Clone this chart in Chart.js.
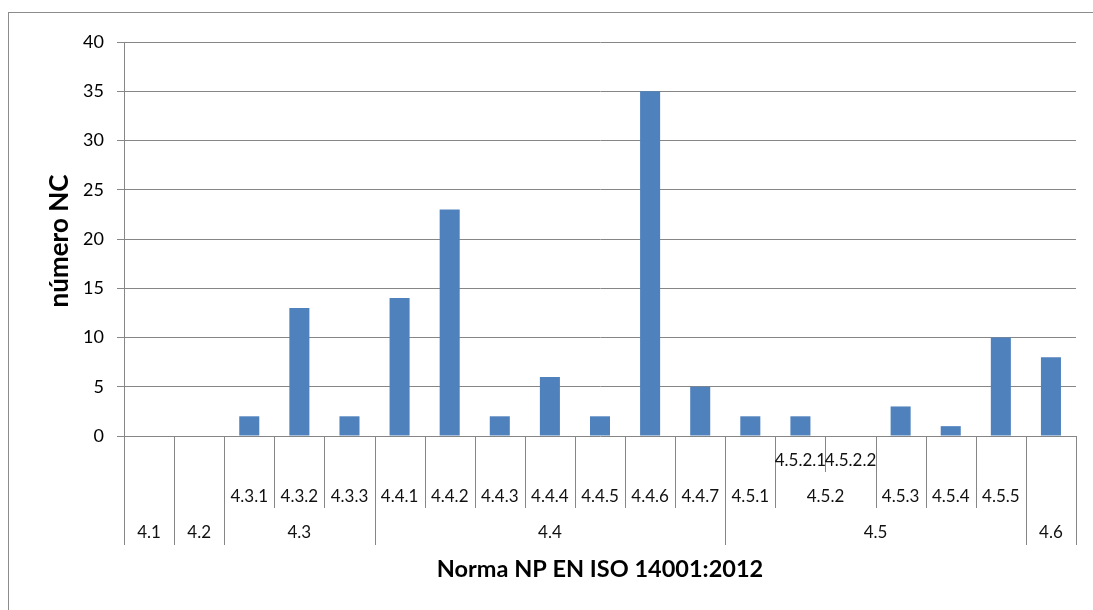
<!DOCTYPE html>
<html>
<head>
<meta charset="utf-8">
<script src="https://cdn.jsdelivr.net/npm/chart.js@4.4.0/dist/chart.umd.min.js"></script>
<style>
  html, body { margin: 0; padding: 0; background: #ffffff; }
  #wrap { width: 1093px; height: 610px; position: relative; }
</style>
</head>
<body>
<div id="wrap"><canvas id="c" width="1093" height="610"></canvas></div>
<script>
// Clause hierarchy of NP EN ISO 14001:2012, one entry per bar (top level, second level, third level)
const clauses    = ['4.1', '4.2', '4.3', '4.3', '4.3', '4.4', '4.4', '4.4', '4.4', '4.4', '4.4', '4.4', '4.5', '4.5', '4.5', '4.5', '4.5', '4.5', '4.6'];
const subClauses = ['', '', '4.3.1', '4.3.2', '4.3.3', '4.4.1', '4.4.2', '4.4.3', '4.4.4', '4.4.5', '4.4.6', '4.4.7', '4.5.1', '4.5.2', '4.5.2', '4.5.3', '4.5.4', '4.5.5', ''];
const items      = ['', '', '', '', '', '', '', '', '', '', '', '', '', '4.5.2.1', '4.5.2.2', '', '', '', ''];

// Number of non-conformities per clause
const ncCounts = [0, 0, 2, 13, 2, 14, 23, 2, 6, 2, 35, 5, 2, 2, 0, 3, 1, 10, 8];

// Value axis ticks
const yTickValues = [0, 5, 10, 15, 20, 25, 30, 35, 40];

const xTitle = 'Norma NP EN ISO 14001:2012';
const yTitle = 'número NC';

const leafLabels = clauses.map((c, i) => items[i] || subClauses[i] || c);

const GRID = '#868686';
const FONT = 'Lato, "Open Sans", sans-serif';

// Draws the outer frame of the chart
const framePlugin = {
  id: 'frame',
  beforeDraw(chart) {
    const ctx = chart.ctx;
    ctx.save();
    ctx.strokeStyle = '#8c8c8c';
    ctx.lineWidth = 1;
    ctx.strokeRect(8.5, 12.5, 3000, 3000);
    ctx.restore();
  }
};

// Three-row category axis with spanning group labels and separators, plus axis titles
const multiLevelAxis = {
  id: 'multiLevelAxis',
  afterDraw(chart) {
    const ctx = chart.ctx;
    const xs = chart.scales.x;
    const area = chart.chartArea;
    const n = leafLabels.length;
    const half = (xs.getPixelForValue(1) - xs.getPixelForValue(0)) / 2;
    const edge = i => (i < n ? xs.getPixelForValue(i) - half : xs.getPixelForValue(n - 1) + half);
    const base = area.bottom;
    const rowBottoms = [base + 36, base + 72, base + 109];
    const rowText = [base + 25, base + 61, base + 97];

    ctx.save();
    // separators
    ctx.strokeStyle = GRID;
    ctx.lineWidth = 1;
    for (let e = 0; e <= n; e++) {
      let depth;
      if (e === 0 || e === n || clauses[e - 1] !== clauses[e]) depth = 2;
      else if (subClauses[e - 1] !== subClauses[e]) depth = 1;
      else depth = 0;
      const x = Math.round(edge(e)) + 0.5;
      ctx.beginPath();
      ctx.moveTo(x, base);
      ctx.lineTo(x, rowBottoms[depth]);
      ctx.stroke();
    }

    // labels, merging consecutive equal entries into one span
    ctx.fillStyle = '#111111';
    ctx.font = '17px ' + FONT;
    ctx.textAlign = 'center';
    ctx.textBaseline = 'middle';
    [items, subClauses, clauses].forEach((row, r) => {
      let i = 0;
      while (i < n) {
        let j = i;
        while (j + 1 < n && row[j + 1] === row[i] && clauses[j + 1] === clauses[i]) j++;
        if (row[i]) {
          const cx = (edge(i) + edge(j + 1)) / 2;
          ctx.fillText(row[i], cx, rowText[r]);
        }
        i = j + 1;
      }
    });

    // axis titles
    ctx.fillStyle = '#000000';
    ctx.font = 'bold 23.5px ' + FONT;
    ctx.fillText(xTitle, (area.left + area.right) / 2, 569);
    ctx.translate(68, (area.top + area.bottom) / 2 + 2);
    ctx.rotate(-Math.PI / 2);
    ctx.textBaseline = 'alphabetic';
    ctx.font = 'bold 26px ' + FONT;
    ctx.fillText(yTitle, 0, 0);
    ctx.restore();
  }
};

new Chart(document.getElementById('c'), {
  type: 'bar',
  data: {
    labels: leafLabels,
    datasets: [{
      label: 'número NC',
      data: ncCounts,
      backgroundColor: '#4F81BD',
      borderWidth: 0,
      barPercentage: 0.4,
      categoryPercentage: 1.0
    }]
  },
  options: {
    responsive: false,
    animation: false,
    layout: { padding: { top: 42, right: 17, bottom: 174, left: 0 } },
    plugins: {
      legend: { display: false },
      tooltip: { enabled: false }
    },
    scales: {
      x: { display: false },
      y: {
        min: 0,
        max: 40,
        afterFit(scale) { scale.width = 124; },
        afterBuildTicks(scale) { scale.ticks = yTickValues.map(v => ({ value: v })); },
        ticks: {
          padding: 13,
          color: '#000000',
          font: { family: FONT, size: 18 }
        },
        grid: { color: GRID, lineWidth: 1, tickLength: 7 },
        border: { display: true, color: GRID, width: 1 }
      }
    }
  },
  plugins: [framePlugin, multiLevelAxis]
});
</script>
</body>
</html>
